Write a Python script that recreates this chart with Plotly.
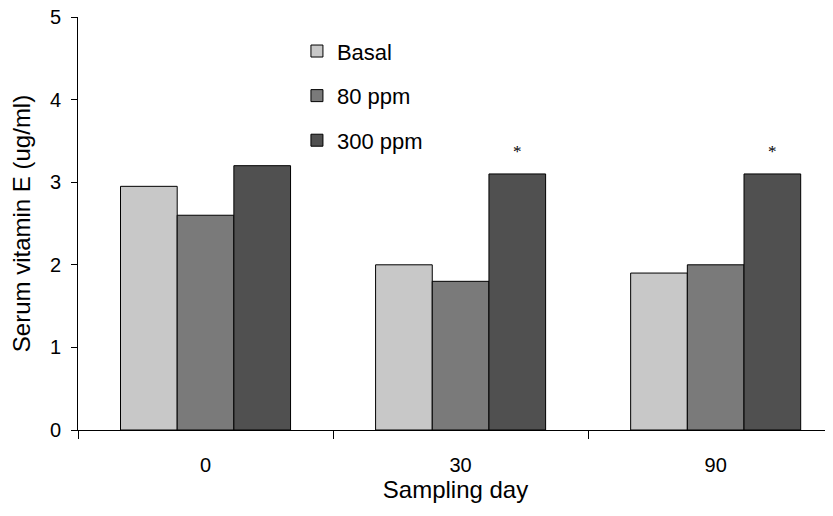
import plotly.graph_objects as go

days = ["0", "30", "90"]
series_names = ["Basal", "80 ppm", "300 ppm"]
basal = [2.95, 2.0, 1.9]
ppm80 = [2.6, 1.8, 2.0]
ppm300 = [3.2, 3.1, 3.1]
colors = ["#C8C8C8", "#7A7A7A", "#505050"]
sig_marks = ["", "*", "*"]  # significance markers on 300 ppm bars

fig = go.Figure()
for i, (name, vals) in enumerate(zip(series_names, [basal, ppm80, ppm300])):
    fig.add_trace(go.Bar(
        x=days, y=vals, name=name, legendgroup=name,
        marker=dict(color=colors[i], line=dict(color="black", width=1)),
    ))

# asterisks above the 300 ppm bars (third bar of each group)
for j, m in enumerate(sig_marks):
    if m:
        fig.add_annotation(x=j + 2/9, y=ppm300[j], xref="x", yref="y",
                           text=m, showarrow=False, yshift=22,
                           font=dict(family="Liberation Serif", size=17, color="black"))

fig.update_layout(
    width=825, height=508,
    margin=dict(l=70, r=0, t=9, b=86, autoexpand=False),
    paper_bgcolor="white", plot_bgcolor="white",
    barmode="group", bargap=1/3, bargroupgap=0,
    font=dict(family="Liberation Sans, Arial", size=20, color="black"),
    legend=dict(x=0.29, y=0.968, xanchor="left", yanchor="top",
                traceorder="grouped", tracegroupgap=13,
                font=dict(size=22), bgcolor="rgba(0,0,0,0)"),
    xaxis=dict(type="category", range=[-0.5, 2.46],
               showline=True, linecolor="black", linewidth=1,
               ticks="outside", tickson="boundaries", ticklen=8, tickcolor="black",
               ticklabelstandoff=17,
               showgrid=False, automargin=False,
               title=dict(text="Sampling day", standoff=4)),
    yaxis=dict(range=[0, 5], dtick=1, showline=True, linecolor="black", linewidth=1,
               ticks="outside", ticklen=6, tickcolor="black", showgrid=False,
               ticklabelstandoff=6, ticklabeloverflow="allow",
               zeroline=False, automargin=False,
               title=dict(text="Serum vitamin E (ug/ml)", standoff=16)),
)

fig.write_html("out.html")
